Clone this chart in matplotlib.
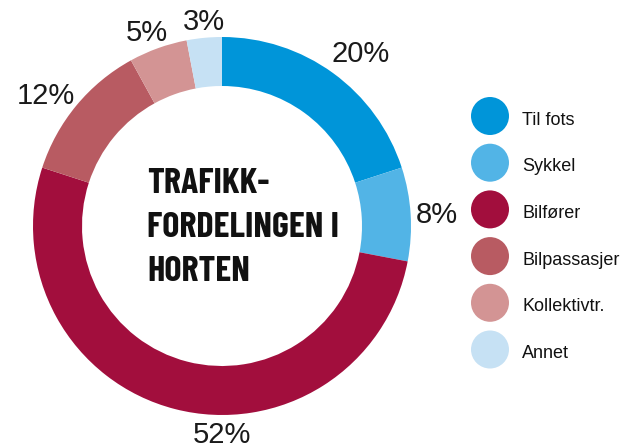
import matplotlib

matplotlib.use("Agg")
import matplotlib.pyplot as plt
from matplotlib.patches import Circle
import numpy as np

categories = ["Til fots", "Sykkel", "Bilfører", "Bilpassasjer", "Kollektivtr.", "Annet"]
shares = [20, 8, 52, 12, 5, 3]
colors = ["#0095d9", "#52b4e6", "#a20e3d", "#b85b62", "#d39494", "#c6e1f4"]
title_lines = ["TRAFIKK-", "FORDELINGEN I", "HORTEN"]

W, H = 621, 448
fig = plt.figure(figsize=(W / 100, H / 100), dpi=100)
ax = fig.add_axes([0, 0, 1, 1])

cx, cy, r = 222, 222, 189
wedges, _ = ax.pie(shares, colors=colors, startangle=90, counterclock=False,
                   center=(cx, cy), radius=r, wedgeprops=dict(width=49, linewidth=0),
                   frame=True)
ax.set_xlim(0, W)
ax.set_ylim(0, H)
ax.set_aspect("equal")
ax.axis("off")

# label placement: (angle in degrees, radius factor)
label_pos = {0: (51.5, 1.18), 1: (3.6, 1.14), 2: (-90, 1.09), 3: (143, 1.17),
             4: (111, 1.11), 5: (95, 1.10)}
for i, s in enumerate(shares):
    ang, fac = label_pos[i]
    a = np.deg2rad(ang)
    ax.text(cx + fac * r * np.cos(a), cy + fac * r * np.sin(a) - 3, f"{s}%",
            ha="center", va="center", fontsize=21, color="#1a1a1a",
            family=["Liberation Sans", "DejaVu Sans"])

for k, line in enumerate(title_lines):
    ax.text(147, H - 184 - k * 44, line, ha="left", va="center", fontsize=26,
            fontweight="bold", family=["Barlow Condensed", "DejaVu Sans"],
            color="#111111")

for k, (cat, col) in enumerate(zip(categories, colors)):
    y = H - (116 + k * 46.7)
    ax.add_patch(Circle((490, y), 19, color=col, linewidth=0))
    ax.text(522, y - 4, cat, ha="left", va="center", fontsize=13, color="#111111",
            family=["Liberation Sans", "DejaVu Sans"])

fig.savefig("out.png", dpi=100)
